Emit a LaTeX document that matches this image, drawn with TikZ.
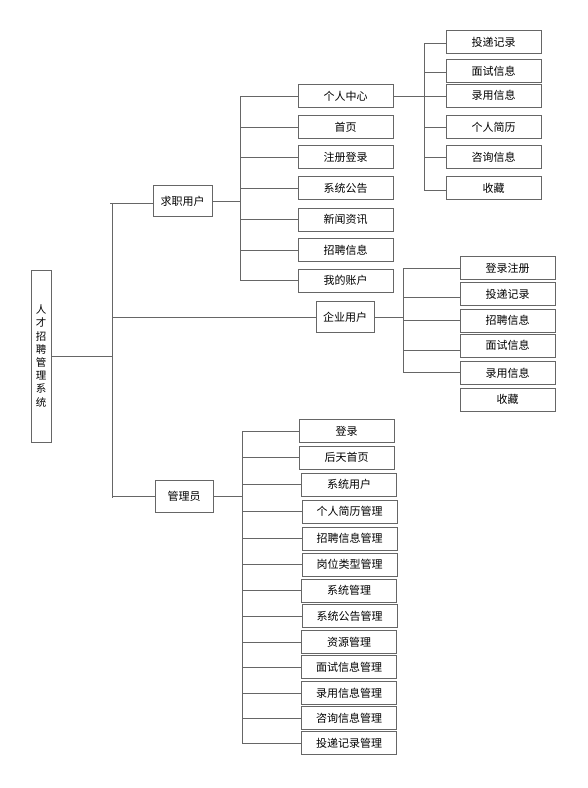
\documentclass[tikz,border=0pt]{standalone}
\usepackage{fontspec}
\setmainfont{Noto Sans CJK SC}
\definecolor{ln}{HTML}{666666}
\tikzset{
  box/.style={draw=ln, line width=1pt, fill=white, minimum width=95pt, minimum height=23pt, inner sep=0pt, font=\fontsize{11}{12}\selectfont},
  conn/.style={draw=ln, line width=1pt},
}
\begin{document}
\begin{tikzpicture}[x=1pt,y=-1pt]
\useasboundingbox (0,0) rectangle (588,788);
% root
\node[box, minimum width=20pt, minimum height=172pt, font=\fontsize{10.5}{13.2}\selectfont, align=center] (root) at (41,356) {人\\才\\招\\聘\\管\\理\\系\\统};
% level 1
\node[box, minimum width=59pt, minimum height=31pt] (qz) at (182.5,201) {求职用户};
\node[box, minimum width=58pt, minimum height=31pt] (qy) at (345,317) {企业用户};
\node[box, minimum width=58pt, minimum height=32pt] (gl) at (184,496) {管理员};
% trunk coords
\coordinate (t0a) at (112,203);
\coordinate (t0b) at (112,498);
\coordinate (t0s) at (110,203);
\draw[conn] (root.east) -- (root.east -| t0a);
\draw[conn] (t0a) -- (t0b);
\draw[conn] (t0s) -- (qz.west |- t0s);
\draw[conn] (qy.west) -- (qy.west -| t0a);
\draw[conn] (gl.west) -- (gl.west -| t0a);
% job seeker children
\coordinate (t1a) at (240,96);
\coordinate (t1b) at (240,280);
\node[box] (a1) at (345.5,96) {个人中心};
\node[box] (a2) at (345.5,127) {首页};
\node[box] (a3) at (345.5,157) {注册登录};
\node[box] (a4) at (345.5,188) {系统公告};
\node[box] (a5) at (345.5,219.5) {新闻资讯};
\node[box] (a6) at (345.5,250) {招聘信息};
\node[box] (a7) at (345.5,280.5) {我的账户};
\draw[conn] (qz.east) -- (qz.east -| t1a);
\draw[conn] (t1a) -- (t1b);
\foreach \n in {a1,a2,a3,a4,a5,a6,a7} \draw[conn] (\n.west) -- (\n.west -| t1a);
% personal center children
\coordinate (t2a) at (424,43);
\coordinate (t2b) at (424,190);
\node[box] (b1) at (493.5,42) {投递记录};
\node[box] (b2) at (493.5,71) {面试信息};
\node[box] (b3) at (493.5,95.5) {录用信息};
\node[box] (b4) at (493.5,127) {个人简历};
\node[box] (b5) at (493.5,157) {咨询信息};
\node[box] (b6) at (493.5,188) {收藏};
\draw[conn] (a1.east) -- (a1.east -| t2a);
\draw[conn] (t2a) -- (t2b);
\foreach \n/\yy in {b1/43,b2/72,b3/96,b4/127,b5/157,b6/190} {
  \coordinate (c\n) at (424,\yy);
  \draw[conn] (c\n) -- (\n.west |- c\n);
}
% enterprise children
\coordinate (t3a) at (403,268);
\coordinate (t3b) at (403,372);
\node[box] (e1) at (507.5,268) {登录注册};
\node[box] (e2) at (507.5,294) {投递记录};
\node[box] (e3) at (507.5,320.5) {招聘信息};
\node[box] (e4) at (507.5,345.5) {面试信息};
\node[box] (e5) at (507.5,373) {录用信息};
\node[box] (e6) at (507.5,399.5) {收藏};
\draw[conn] (qy.east) -- (qy.east -| t3a);
\draw[conn] (t3a) -- (t3b);
\foreach \n/\yy in {e1/268,e2/297,e3/320,e4/350,e5/372} {
  \coordinate (c\n) at (403,\yy);
  \draw[conn] (c\n) -- (\n.west |- c\n);
}
% admin children
\coordinate (t4a) at (242,431);
\coordinate (t4b) at (242,744);
\node[box] (m1) at (346.5,431) {登录};
\node[box] (m2) at (346.5,457.5) {后天首页};
\node[box] (m3) at (349,484.5) {系统用户};
\node[box] (m4) at (349.5,511.5) {个人简历管理};
\node[box] (m5) at (349.5,538.5) {招聘信息管理};
\node[box] (m6) at (349.5,564.5) {岗位类型管理};
\node[box] (m7) at (349,590.5) {系统管理};
\node[box] (m8) at (349.5,616) {系统公告管理};
\node[box] (m9) at (349,642) {资源管理};
\node[box] (m10) at (349,667) {面试信息管理};
\node[box] (m11) at (349,693) {录用信息管理};
\node[box] (m12) at (349,718) {咨询信息管理};
\node[box] (m13) at (349,743) {投递记录管理};
\draw[conn] (gl.east) -- (gl.east -| t4a);
\draw[conn] (t4a) -- (t4b);
\foreach \n in {m1,m2,m3,m4,m5,m6,m7,m8,m9,m10,m11,m12,m13} \draw[conn] (\n.west) -- (\n.west -| t4a);
\end{tikzpicture}
\end{document}
